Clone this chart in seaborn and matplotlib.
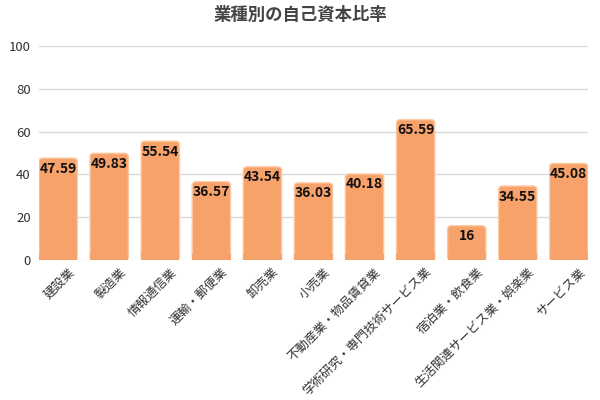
import matplotlib
matplotlib.use("Agg")
import matplotlib.pyplot as plt
import matplotlib.transforms as mtransforms
import seaborn as sns
import pandas as pd
from matplotlib.patches import FancyBboxPatch

industries = ["建設業", "製造業", "情報通信業", "運輸・郵便業", "卸売業", "小売業",
              "不動産業・物品賃貸業", "学術研究・専門技術サービス業", "宿泊業・飲食業",
              "生活関連サービス業・娯楽業", "サービス業"]
ratios = [47.59, 49.83, 55.54, 36.57, 43.54, 36.03, 40.18, 65.59, 16, 34.55, 45.08]
y_ticks = [0, 20, 40, 60, 80, 100]

sns.set_theme(style="white")
plt.rcParams["font.family"] = ["Noto Sans CJK JP", "DejaVu Sans"]

df = pd.DataFrame({"industry": industries, "ratio": ratios})

fig = plt.figure(figsize=(6, 4), dpi=100)
ax = fig.add_axes([0.065, 0.35, 0.915, 0.535])

sns.barplot(data=df, x="industry", y="ratio", color="#F8A26B", saturation=1,
            width=0.75, ax=ax, zorder=3)

# rounded tops: swap each bar for a rounded box of the same geometry
bars = list(ax.patches)
for p in bars:
    x, y, w, h = p.get_x(), p.get_y(), p.get_width(), p.get_height()
    fb = FancyBboxPatch((x, y), w, h, boxstyle="round,pad=0,rounding_size=0.08",
                        mutation_aspect=21, facecolor="#F8A26B",
                        edgecolor="#FCC8A0", linewidth=1, zorder=3)
    p.set_visible(False)
    ax.add_patch(fb)
    # cover the rounded bottom corners with a flat strip
    ax.add_patch(plt.Rectangle((x, y), w, min(h, 3), facecolor="#F8A26B",
                               edgecolor="none", zorder=3))

for p, v in zip(bars, ratios):
    ax.annotate(f"{v:g}", (p.get_x() + p.get_width() / 2, v),
                xytext=(0, -2.5), textcoords="offset points",
                ha="center", va="top", fontsize=10, fontweight="bold",
                color="#111111", zorder=4)

ax.set_ylim(0, 100)
ax.set_xlim(-0.375, len(industries) - 0.625)
ax.set_yticks(y_ticks)
ax.yaxis.grid(True, color="#D9D9D9", linewidth=1, zorder=0)
ax.set_axisbelow(True)
for s in ax.spines.values():
    s.set_visible(False)
ax.tick_params(axis="y", length=0, labelsize=9.5, colors="#333333", pad=6)
ax.tick_params(axis="x", length=0, labelsize=9, colors="#333333", pad=4)
shift = mtransforms.ScaledTranslation(7 / 72, 0, fig.dpi_scale_trans)
for lab in ax.get_xticklabels():
    lab.set_rotation(45)
    lab.set_ha("right")
    lab.set_rotation_mode("anchor")
    lab.set_transform(lab.get_transform() + shift)
ax.set_xlabel("")
ax.set_ylabel("")
fig.suptitle("業種別の自己資本比率", x=0.5, y=0.985, fontsize=12.5,
             fontweight="bold", color="#444444")

fig.savefig("out.png", dpi=100)
